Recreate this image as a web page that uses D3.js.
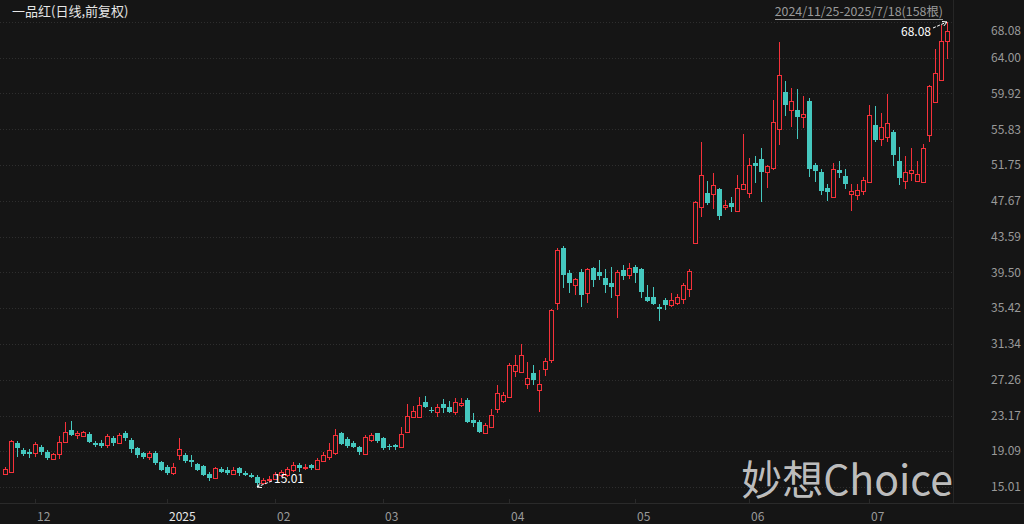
<!DOCTYPE html>
<html><head><meta charset="utf-8">
<script src="https://cdn.jsdelivr.net/npm/d3@7/dist/d3.min.js"></script>
<style>
html,body{margin:0;padding:0;background:#151515;overflow:hidden;}
svg{display:block;}
text{font-family:"Microsoft YaHei","Noto Sans CJK SC","Noto Sans",sans-serif;}
</style></head>
<body>
<svg id="c" width="1024" height="524"></svg>
<script>
const title = "一品红(日线,前复权)";
const rangeLabel = "2024/11/25-2025/7/18(158根)";
const watermark = "妙想Choice";
const openV = [16.49,16.76,20.03,19.24,19.04,18.86,19.54,18.97,18.21,18.74,20.18,21.52,21.00,20.87,21.06,20.07,20.07,19.81,20.57,20.07,
21.14,20.38,19.43,18.86,18.40,18.93,17.83,17.33,16.64,18.66,18.66,18.09,17.60,17.41,16.49,16.00,17.03,16.95,16.49,17.15,
16.64,16.38,16.19,15.50,15.80,15.95,16.40,16.38,16.95,17.52,17.20,17.48,17.07,18.01,18.40,18.86,21.14,20.45,20.07,19.54,
18.78,20.38,21.14,20.57,19.69,19.75,19.61,21.33,22.97,23.04,24.75,23.80,23.60,24.49,24.18,23.60,24.33,24.94,22.66,22.47,
21.21,21.89,23.88,24.86,25.32,28.29,28.18,26.77,28.06,26.09,28.45,29.51,35.99,42.27,39.41,38.08,39.60,37.20,39.98,39.60,
38.84,38.27,36.93,39.79,39.22,40.17,39.87,36.74,36.74,35.60,36.36,35.80,36.06,36.45,37.59,42.91,46.95,48.62,48.46,49.00,
47.00,47.41,46.56,49.00,48.55,51.98,52.40,51.00,51.40,55.86,60.04,58.06,57.98,57.22,59.01,51.78,51.00,49.12,48.09,51.20,
50.45,48.46,48.35,48.84,49.87,56.35,54.71,55.01,55.58,52.16,49.98,50.83,49.98,49.87,55.21,58.90,61.49,65.86];
const highV = [17.29,20.38,20.26,19.50,19.35,20.11,19.77,19.24,18.93,20.83,22.47,22.58,21.44,21.44,21.29,20.26,20.38,21.06,20.83,21.15,
21.44,20.57,19.62,19.04,19.12,19.12,17.98,17.56,17.79,20.57,18.93,18.66,17.79,17.52,16.70,17.33,17.25,17.33,17.25,17.33,
16.80,16.60,16.35,16.00,16.30,16.70,16.90,17.29,17.90,17.79,17.60,17.60,18.30,19.04,20.00,21.60,21.33,20.70,20.30,19.70,
20.90,21.20,21.20,20.70,19.90,19.95,21.89,24.49,24.26,25.32,25.40,24.18,24.49,25.03,24.80,25.14,25.14,25.14,23.50,22.60,
22.35,23.88,26.66,25.89,29.14,30.08,31.34,29.32,28.94,28.37,29.71,35.30,42.27,42.53,39.79,38.84,39.87,39.98,40.10,40.93,
39.87,40.17,39.79,40.36,40.55,40.36,39.98,38.08,37.89,35.91,36.55,37.20,37.05,38.34,39.87,47.70,54.44,49.88,50.84,49.12,
47.78,48.16,50.64,55.32,52.54,52.81,53.69,51.78,59.20,65.75,61.30,60.54,60.43,59.58,59.40,52.04,51.29,49.60,52.04,52.16,
51.29,49.60,49.60,50.37,58.63,58.52,57.75,59.86,55.77,53.87,52.73,53.69,52.16,54.18,60.92,65.00,67.77,68.08];
const lowV = [16.38,16.64,18.44,18.55,18.29,18.47,18.65,18.09,18.09,18.21,20.07,20.83,20.46,20.68,20.06,19.55,19.43,19.50,19.69,20.00,
20.26,18.86,18.29,18.20,18.10,17.52,16.80,16.40,16.40,18.09,17.70,17.33,16.80,16.26,15.70,15.90,16.60,16.40,16.40,16.30,
16.26,16.05,15.01,15.35,15.55,15.80,16.20,16.15,16.70,16.70,16.90,17.00,16.95,17.90,18.10,18.66,19.81,19.50,19.43,18.70,
18.66,20.10,20.00,19.24,19.20,19.25,19.43,21.14,22.85,22.97,24.00,23.42,22.97,23.50,23.40,23.23,24.10,22.35,21.89,21.14,
21.14,21.70,23.42,24.64,25.14,27.61,28.06,26.17,26.66,23.60,27.68,29.17,35.22,37.70,37.13,36.93,35.60,35.99,37.89,38.65,
37.13,36.57,34.27,38.65,38.73,38.27,36.57,36.17,35.80,34.00,35.22,35.60,35.80,35.91,36.74,42.84,45.81,47.21,46.72,45.50,
46.64,46.40,46.45,48.92,47.98,49.69,47.59,49.12,51.20,54.06,57.37,56.08,54.71,55.97,50.44,49.87,48.35,47.70,47.98,50.26,
49.00,46.56,47.78,48.35,49.69,54.33,53.94,54.44,51.66,49.49,48.99,49.98,49.87,49.76,54.33,58.82,61.41,63.85];
const closeV = [17.06,20.30,19.46,18.74,18.78,19.89,19.00,18.29,18.78,20.18,21.33,20.95,21.15,21.25,20.18,19.81,19.69,20.83,20.00,20.95,
20.57,19.31,18.66,18.47,18.93,17.72,16.95,16.64,17.33,19.31,18.01,17.83,16.95,16.38,16.00,17.15,16.76,16.64,16.95,16.57,
16.38,16.12,15.50,15.81,15.95,16.45,16.75,17.03,17.52,17.15,17.30,17.15,18.09,18.66,19.24,20.95,19.89,19.69,19.62,19.04,
20.75,20.95,20.30,19.43,19.54,19.61,21.06,23.12,23.72,24.37,24.18,23.70,24.10,24.00,23.60,24.75,24.64,22.47,22.35,21.33,
22.09,23.23,25.71,25.52,28.94,28.94,30.08,27.42,27.23,26.77,29.43,35.22,42.07,39.22,38.34,38.73,36.93,39.87,38.65,39.10,
38.08,37.81,39.60,39.10,39.98,39.41,37.31,36.28,35.91,35.37,35.80,36.36,36.74,38.08,39.71,47.48,50.64,47.41,49.49,45.96,
47.20,46.95,49.12,49.60,51.78,51.59,51.00,51.59,56.72,62.06,58.63,59.01,57.22,57.60,51.29,51.13,48.84,48.73,51.29,50.90,
49.60,48.84,48.92,50.07,57.49,54.64,56.15,56.54,52.92,50.26,51.00,51.20,50.74,53.69,60.80,62.25,65.86,67.00];
const yTickLabels = ["68.08","64.00","59.92","55.83","51.75","47.67","43.59","39.50","35.42","31.34","27.26","23.17","19.09","15.01"];
const monthTickIdx = [5,27,45,63,84,105,124,144];
const monthTickLabels = ["12","2025","02","03","04","05","06","07"];

const W=1024,H=524;
const plotRight=953, axisY=503;
const RED="#f5313a", CYAN="#45c8bf", BG="#151515";
const svg=d3.select("#c");
svg.append("rect").attr("width",W).attr("height",H).attr("fill",BG);

const n=openV.length;
const x=d3.scaleLinear().domain([0,n-1]).range([5,947]);
const yMin=+yTickLabels[yTickLabels.length-1], yMax=+yTickLabels[0];
const y=d3.scaleLinear().domain([yMin,yMax]).range([487,22]);

// grid
const g=svg.append("g").attr("shape-rendering","crispEdges");
yTickLabels.forEach(t=>{
  const yy=Math.round(y(+t))+0.5;
  g.append("line").attr("x1",0).attr("x2",plotRight).attr("y1",yy).attr("y2",yy)
   .attr("stroke","#2e2e2e").attr("stroke-dasharray","1,2");
});
g.append("line").attr("x1",plotRight+0.5).attr("x2",plotRight+0.5).attr("y1",0).attr("y2",axisY).attr("stroke","#262626");
g.append("line").attr("x1",0).attr("x2",W).attr("y1",axisY+0.5).attr("y2",axisY+0.5).attr("stroke","#2a2a2a");

// y labels
svg.append("g").selectAll("text").data(yTickLabels).join("text")
  .attr("x",991).attr("y",(d,i)=> i===0 ? y(+d)+9 : y(+d))
  .attr("dy","0.35em").attr("font-size",12).attr("fill","#9a9a9a").text(d=>d);

// month ticks
const mt=svg.append("g");
monthTickIdx.forEach((idx,i)=>{
  const xx=Math.round(x(idx))+0.5;
  mt.append("line").attr("x1",xx).attr("x2",xx).attr("y1",axisY-4).attr("y2",axisY).attr("stroke","#2a2a2a").attr("shape-rendering","crispEdges");
  mt.append("text").attr("x",x(idx)+2).attr("y",521).attr("font-size",12)
    .attr("fill", monthTickLabels[i]==="2025" ? "#e8e8e8" : "#9a9a9a").text(monthTickLabels[i]);
});

// watermark
svg.append("text").attr("x",953).attr("y",495).attr("text-anchor","end")
  .attr("font-size",41).attr("fill","#d4d4d4").attr("fill-opacity",0.9)
  .attr("font-family","'Noto Sans CJK SC','Noto Sans',sans-serif").text(watermark);

// candles
const data=d3.range(n).map(i=>({i,o:openV[i],h:highV[i],l:lowV[i],c:closeV[i],up:closeV[i]>=openV[i]}));
const cg=svg.append("g").attr("shape-rendering","crispEdges");
const cand=cg.selectAll("g").data(data).join("g");
cand.append("line")
  .attr("x1",d=>Math.round(x(d.i))+0.5).attr("x2",d=>Math.round(x(d.i))+0.5)
  .attr("y1",d=>y(d.h)).attr("y2",d=>y(d.l))
  .attr("stroke",d=>d.up?RED:CYAN).attr("stroke-width",1);
cand.filter(d=>d.up).append("rect")
  .attr("x",d=>Math.round(x(d.i))-1.5).attr("width",4)
  .attr("y",d=>Math.round(y(d.c))+0.5).attr("height",d=>Math.max(1,Math.round(y(d.o))-Math.round(y(d.c))))
  .attr("fill",BG).attr("stroke",RED).attr("stroke-width",1);
cand.filter(d=>!d.up).append("rect")
  .attr("x",d=>Math.round(x(d.i))-2).attr("width",5)
  .attr("y",d=>Math.round(y(d.o))).attr("height",d=>Math.max(1,Math.round(y(d.c))-Math.round(y(d.o))))
  .attr("fill",CYAN);

// title
svg.append("text").attr("x",12).attr("y",16).attr("font-size",13).attr("fill","#e6e6e6").text(title);
const rl=svg.append("text").attr("x",943).attr("y",16).attr("text-anchor","end").attr("font-size",12.4).attr("fill","#9a9a9a").text(rangeLabel);
const bb=rl.node().getBBox();
svg.append("line").attr("x1",bb.x).attr("x2",bb.x+bb.width).attr("y1",19.5).attr("y2",19.5).attr("stroke","#9a9a9a").attr("shape-rendering","crispEdges");

// annotations max/min
let maxI=d3.maxIndex(highV), minI=d3.minIndex(lowV);
function annot(i,val,dx,dy,anchor,tx,ty){
  const px=x(i), py=y(val);
  const ax=px+dx, ay=py+dy;
  svg.append("line").attr("x1",ax).attr("y1",ay).attr("x2",px).attr("y2",py)
    .attr("stroke","#ffffff").attr("stroke-width",1).attr("stroke-dasharray","3,1.5");
  const ang=Math.atan2(ay-py,ax-px);
  const L=5,s=0.5;
  svg.append("path").attr("d",`M${px+L*Math.cos(ang+s)},${py+L*Math.sin(ang+s)}L${px},${py}L${px+L*Math.cos(ang-s)},${py+L*Math.sin(ang-s)}`)
    .attr("fill","none").attr("stroke","#fff");
  svg.append("text").attr("x",ax+tx).attr("y",ay+ty).attr("text-anchor",anchor).attr("dy","0.35em")
    .attr("font-size",12).attr("fill","#ffffff").text(val.toFixed(2));
}
annot(maxI,highV[maxI],-14,6,"end",-2,4);
annot(minI,lowV[minI],15,-6,"start",2,-2);
</script>
</body></html>
